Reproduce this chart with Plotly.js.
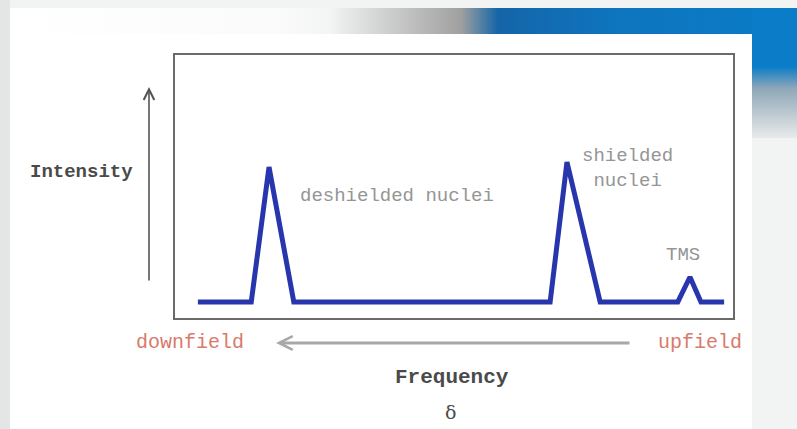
<!DOCTYPE html>
<html>
<head>
<meta charset="utf-8">
<script src="https://cdn.plot.ly/plotly-3.0.1.min.js"></script>
<style>
  html, body { margin: 0; padding: 0; background: #ffffff; }
  #wrap { position: relative; width: 797px; height: 429px; overflow: hidden; background: #f2f3f3; }
  #leftstrip { position: absolute; left: 0; top: 0; width: 10px; height: 429px; background: #e4e6e6; }
  #topband { position: absolute; left: 330px; top: 8px; width: 467px; height: 26px;
             background: linear-gradient(90deg, rgba(200,200,200,0) 0%, #a0a0a0 28%, #1565a8 36%, #0e74be 60%, #0a7cc8 100%); }
  #rightband { position: absolute; left: 752px; top: 8px; width: 45px; height: 130px;
               background: linear-gradient(180deg, #0a7cc8 0%, #0a7cc8 45%, #8fa7b8 62%, #e8eaea 100%); }
  #panel { position: absolute; left: 10px; top: 34px; width: 742px; height: 395px; background: #ffffff; }
  #panelTop { position: absolute; left: 10px; top: 8px; width: 330px; height: 26px;
              background: linear-gradient(90deg, #ffffff 0%, #fbfbfb 80%, rgba(255,255,255,0) 100%); }
  #chart { position: absolute; left: 0; top: 0; width: 797px; height: 429px; }
</style>
</head>
<body>
<div id="wrap">
  <div id="leftstrip"></div>
  <div id="topband"></div>
  <div id="rightband"></div>
  <div id="panelTop"></div>
  <div id="panel"></div>
  <div id="chart"></div>
</div>
<script>
// Chemical shift (ppm) along the spectrum, left (downfield) to right (upfield)
const shift = [10.52, 9.38, 9.0, 8.47, 2.99, 2.63, 1.92, 0.26, 0.0, -0.235, -0.73];
// Signal intensity (arbitrary units)
const intensity = [6.1, 6.1, 57.4, 6.1, 6.1, 59.3, 6.1, 6.1, 15.6, 6.1, 6.1];

const peakLabels = ["deshielded nuclei", "shielded<br>nuclei", "TMS"];
const peakLabelX = [6.26, 1.33, 0.15];
const peakLabelY = [46.4, 57.0, 24.0];

const axisTitles = {intensity: "Intensity", frequency: "Frequency", delta: "δ"};
const endLabels = ["downfield", "upfield"];

const FONT = "Liberation Mono, Courier New, monospace";

const trace = {
  x: shift, y: intensity, type: "scatter", mode: "lines",
  line: {color: "#2836ad", width: 5, shape: "linear"},
  hoverinfo: "skip", showlegend: false
};

function label(x, y, text, font) {
  return {x: x, y: y, xref: "paper", yref: "paper", text: text, showarrow: false,
          xanchor: "center", yanchor: "middle", font: font};
}

const annotations = [];
peakLabels.forEach((t, i) => {
  annotations.push({
    x: peakLabelX[i], y: peakLabelY[i], xref: "x", yref: "y",
    text: t, showarrow: false, xanchor: "center", yanchor: "middle",
    font: {family: FONT, size: 19, color: "#959595"}
  });
});
annotations.push(label(-0.168, 0.555, axisTitles.intensity, {family: FONT, size: 19, color: "#4a4a4a", weight: "bold"}));
annotations.push(label(0.496, -0.228, axisTitles.frequency, {family: FONT, size: 21, color: "#4a4a4a", weight: "bold"}));
annotations.push(label(0.493, -0.357, axisTitles.delta, {family: "DejaVu Serif, serif", size: 19, color: "#4a4a4a"}));
annotations.push(label(0.027, -0.095, endLabels[0], {family: FONT, size: 20, color: "#d87a6c"}));
annotations.push(label(0.941, -0.095, endLabels[1], {family: FONT, size: 20, color: "#d87a6c"}));
// vertical intensity arrow
annotations.push({
  x: -0.0466, y: 0.878, xref: "paper", yref: "paper", text: "",
  showarrow: true, ax: 0, ay: 195, axref: "pixel", ayref: "pixel",
  arrowhead: 5, arrowsize: 1.3, arrowwidth: 1.6, arrowcolor: "#555555", standoff: 0, startstandoff: 0
});
// horizontal frequency arrow
annotations.push({
  x: 0.181, y: -0.095, xref: "paper", yref: "paper", text: "",
  showarrow: true, ax: 355, ay: 0, axref: "pixel", ayref: "pixel",
  arrowhead: 5, arrowsize: 0.9, arrowwidth: 3, arrowcolor: "#a8a8a8", standoff: 0, startstandoff: 0
});

const layout = {
  width: 797, height: 429,
  margin: {l: 175, r: 64, t: 55, b: 111, pad: 0},
  paper_bgcolor: "rgba(0,0,0,0)",
  plot_bgcolor: "#ffffff",
  xaxis: {range: [11.01, -0.92], showgrid: false, zeroline: false, showticklabels: false,
          ticks: "", showline: true, mirror: true, linecolor: "#6a6a6a", linewidth: 2, fixedrange: true},
  yaxis: {range: [0, 100], showgrid: false, zeroline: false, showticklabels: false,
          ticks: "", showline: true, mirror: true, linecolor: "#6a6a6a", linewidth: 2, fixedrange: true},
  annotations: annotations
};

Plotly.newPlot("chart", [trace], layout, {displayModeBar: false, staticPlot: true});
</script>
</body>
</html>
